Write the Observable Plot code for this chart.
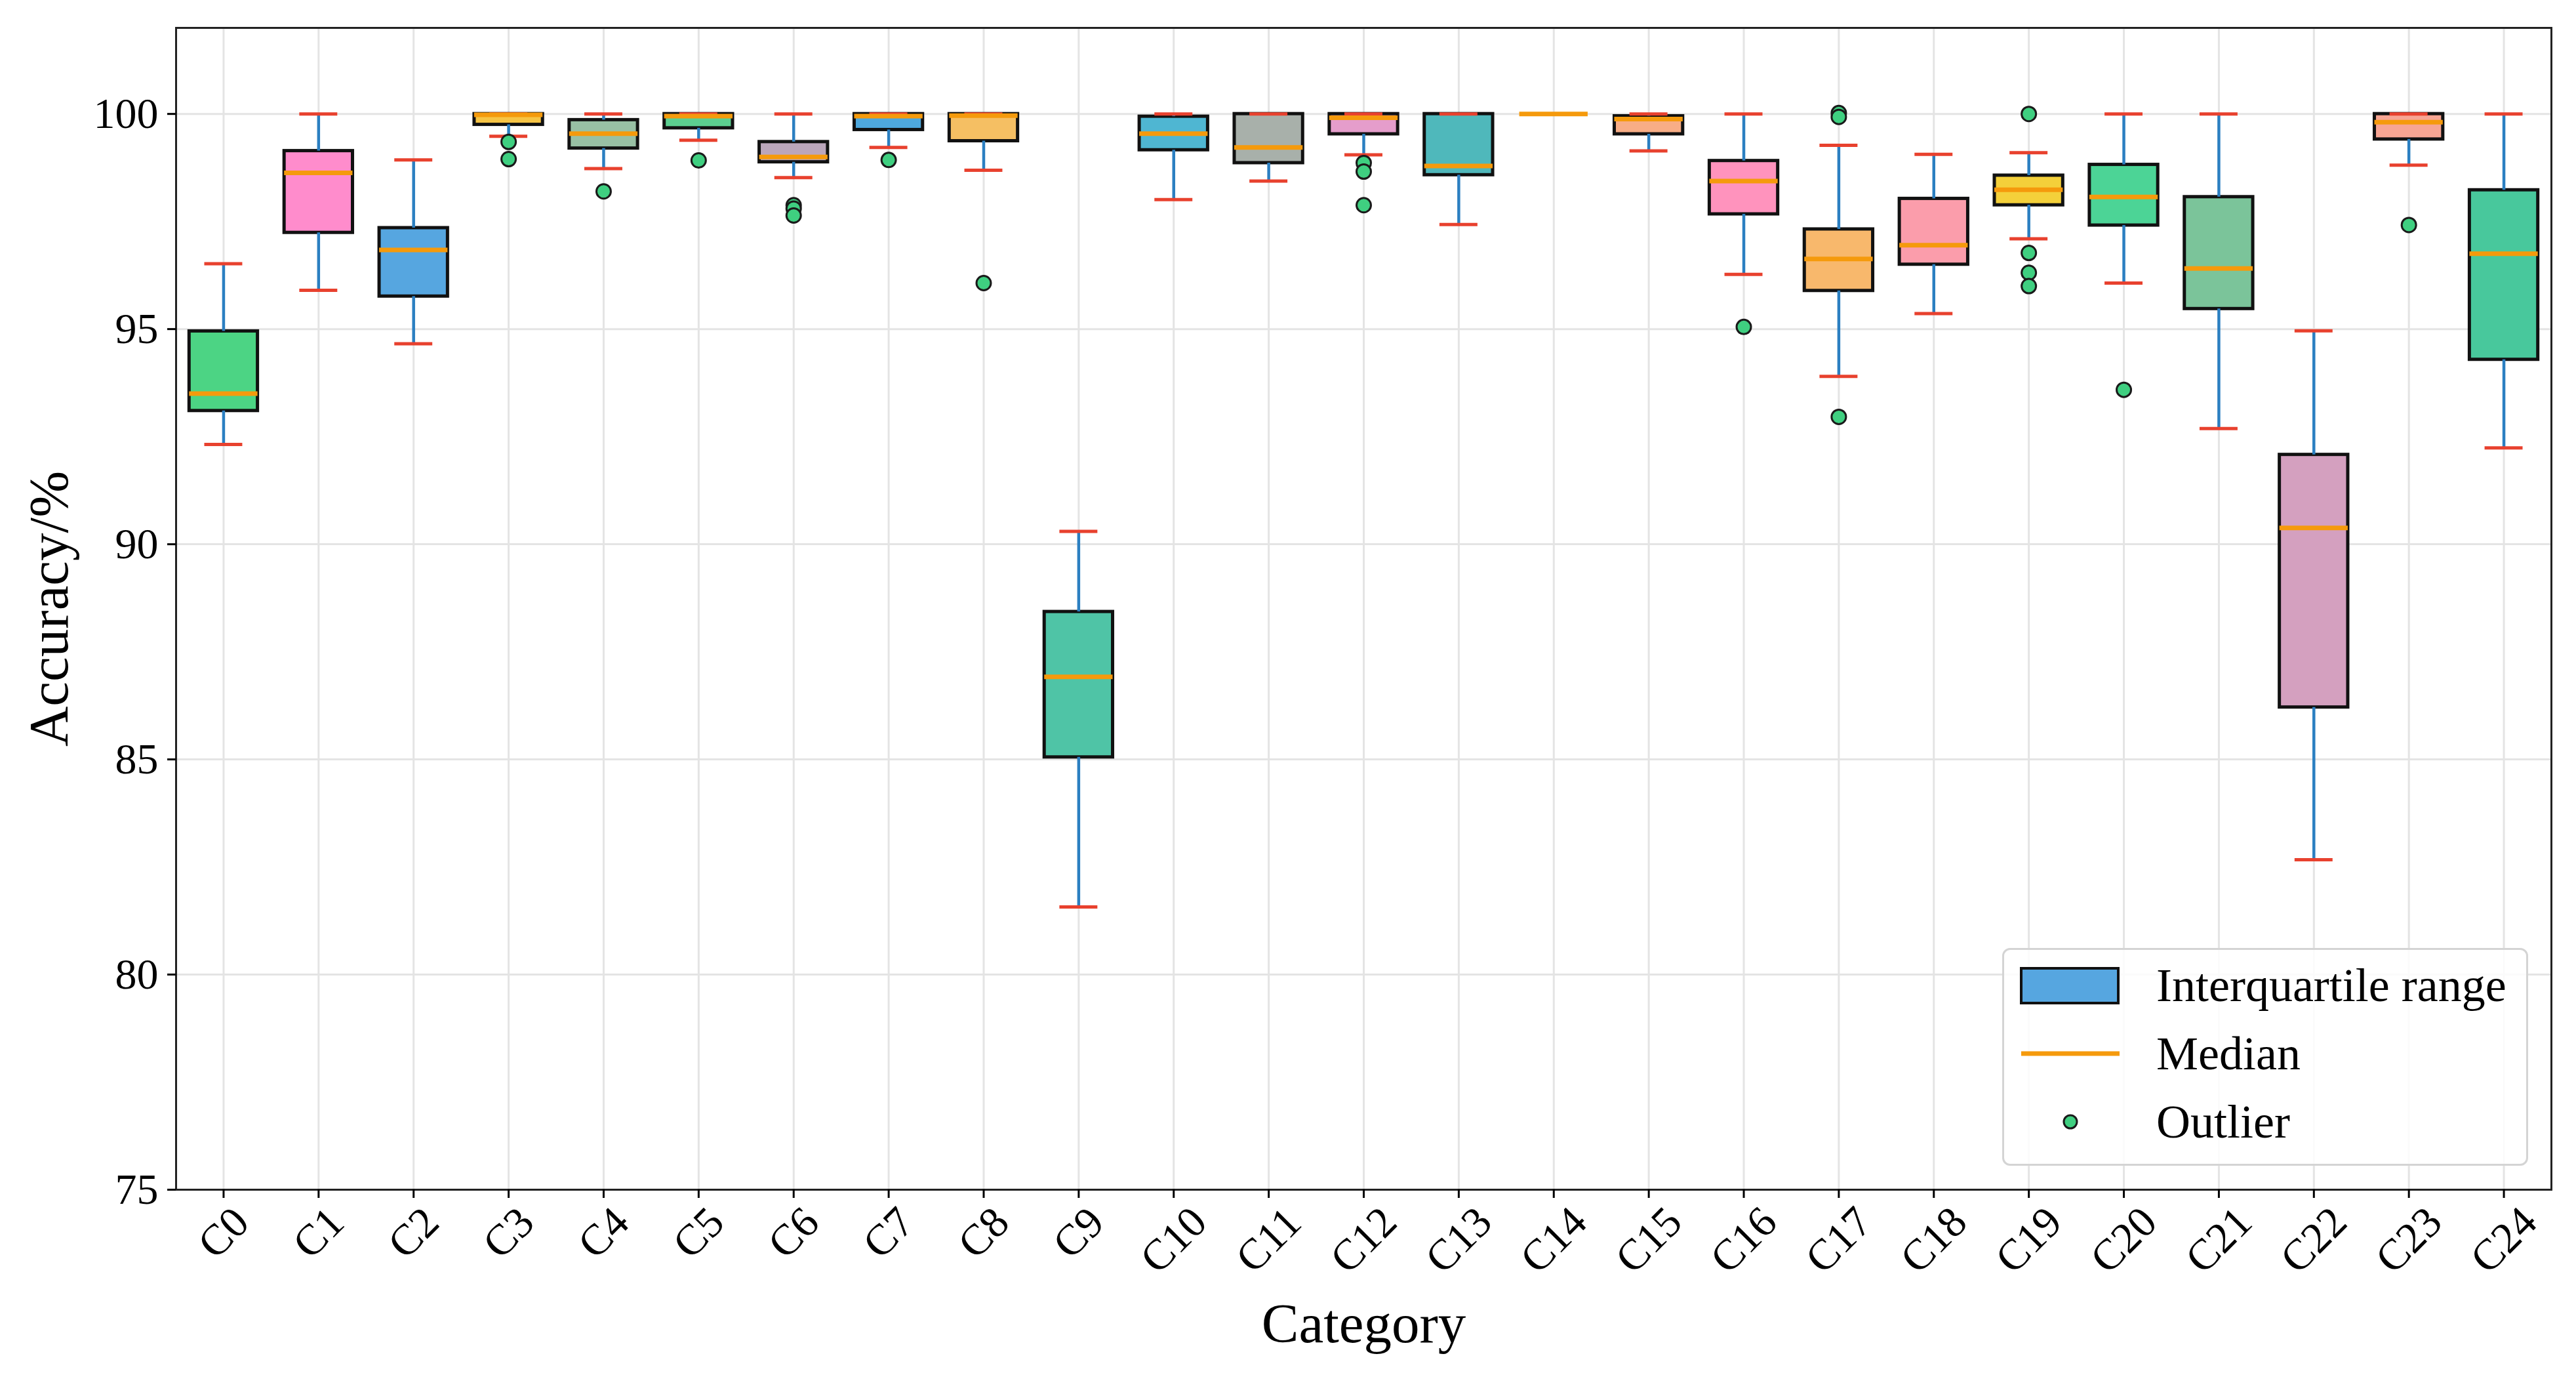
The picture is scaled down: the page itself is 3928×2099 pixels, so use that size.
<!DOCTYPE html>
<html>
<head>
<meta charset="utf-8">
<script src="https://cdn.jsdelivr.net/npm/d3@7"></script>
<script src="https://cdn.jsdelivr.net/npm/@observablehq/plot@0.6"></script>
<style>
  html, body { margin: 0; padding: 0; background: #fff; }
  #wrap { position: relative; width: 3928px; height: 2099px; font-family: "Liberation Serif", "Times New Roman", serif; }
  #legend { position: absolute; left: 3053px; top: 1445px; width: 796px; height: 326px;
    border: 3px solid #d4d4d4; border-radius: 12px; background: rgba(255,255,255,0.85); }
  .lg-row { position: absolute; left: 0; height: 80px; width: 100%; }
  .lg-text { position: absolute; left: 232px; top: 0; line-height: 80px; font-size: 72px; color: #000; white-space: nowrap; }
</style>
</head>
<body>
<div id="wrap"></div>
<script>
// ---- data ----
const categories = ["C0","C1","C2","C3","C4","C5","C6","C7","C8","C9","C10","C11","C12",
  "C13","C14","C15","C16","C17","C18","C19","C20","C21","C22","C23","C24"];
const whiskerLow  = [92.32, 95.90, 94.66, 99.48, 98.73, 99.39, 98.52, 99.22, 98.69, 81.57, 98.01, 98.44, 99.05,
  97.43, 100.0, 99.14, 96.27, 93.90, 95.36, 97.10, 96.07, 92.69, 82.67, 98.81, 92.24];
const q1          = [93.10, 97.24, 95.76, 99.75, 99.20, 99.67, 98.88, 99.63, 99.37, 85.05, 99.16, 98.86, 99.53,
  98.58, 100.0, 99.53, 97.67, 95.89, 96.50, 97.88, 97.41, 95.47, 86.21, 99.41, 94.29];
const median      = [93.50, 98.63, 96.84, 99.98, 99.54, 99.95, 99.00, 99.95, 99.96, 86.92, 99.54, 99.22, 99.91,
  98.79, 100.0, 99.88, 98.44, 96.63, 96.95, 98.24, 98.07, 96.41, 90.38, 99.81, 96.75];
const q3          = [94.95, 99.14, 97.35, 100.0, 99.86, 100.0, 99.35, 100.0, 100.0, 88.43, 99.94, 100.0, 100.0,
  100.0, 100.0, 99.95, 98.91, 97.32, 98.03, 98.57, 98.82, 98.07, 92.08, 100.0, 98.23];
const whiskerHigh = [96.52, 100.0, 98.93, 100.0, 100.0, 100.0, 100.0, 100.0, 100.0, 90.30, 100.0, 100.0, 100.0,
  100.0, 100.0, 100.0, 100.0, 99.27, 99.06, 99.10, 100.0, 100.0, 94.96, 100.0, 100.0];
const outlierCategory = [3, 3, 4, 5, 6, 6, 6, 7, 8, 12, 12, 12, 16, 17, 17, 17, 19, 19, 19, 19, 20, 23];
const outlierValue    = [99.35, 98.95, 98.20, 98.92, 97.88, 97.80, 97.64, 98.93, 96.07, 98.86, 98.66, 97.88,
  95.05, 100.02, 99.93, 92.96, 100.0, 96.77, 96.31, 96.00, 93.59, 97.42];
const yTicks = [75, 80, 85, 90, 95, 100];

// ---- styles ----
const boxColors = ["#4cd484","#ff8ccc","#56a6e0","#f6c445","#98c0a4","#5ccf90","#bba6bb","#4ea8dd","#f5bf63",
  "#4fc4a6","#4fb6d2","#a8b0aa","#e59dcb","#4fb8bb","#f6c445","#f8ad86","#ff93bd","#f8b86c","#fb9dab",
  "#f4d03a","#4cd496","#7bc49a","#d4a0bf","#f7a593","#48c89c"];
const whiskerColor = "#2b7fc1", capColor = "#e8412e", medianColor = "#f59a0c", outlierFill = "#3fcf80";
const boxHalf = 0.36, capHalf = 0.2;

const idx = categories.map((_, i) => i);
const outliers = outlierCategory.map((c, k) => ({c, v: outlierValue[k]}));
const FONT = "Liberation Serif, Times New Roman, serif";

const chart = Plot.plot({
  width: 3928,
  height: 2099,
  marginLeft: 268,
  marginRight: 38,
  marginTop: 42,
  marginBottom: 286,
  style: {fontFamily: FONT, background: "#fff", color: "#000"},
  x: {type: "linear", domain: [-0.5, 24.5]},
  y: {domain: [75, 102]},
  marks: [
    Plot.gridY(yTicks, {stroke: "#e4e4e4", strokeWidth: 3, strokeOpacity: 1}),
    Plot.gridX(idx, {stroke: "#e4e4e4", strokeWidth: 3, strokeOpacity: 1}),
    // boxes
    Plot.rect(idx, {x1: i => i - boxHalf, x2: i => i + boxHalf, y1: i => q1[i], y2: i => q3[i],
      fill: i => boxColors[i], stroke: "#111", strokeWidth: 5}),
    // whiskers
    Plot.ruleX(idx, {x: i => i, y1: i => q3[i], y2: i => whiskerHigh[i], stroke: whiskerColor, strokeWidth: 4.5}),
    Plot.ruleX(idx, {x: i => i, y1: i => whiskerLow[i], y2: i => q1[i], stroke: whiskerColor, strokeWidth: 4.5}),
    // caps
    Plot.ruleY(idx, {x1: i => i - capHalf, x2: i => i + capHalf, y: i => whiskerHigh[i], stroke: capColor, strokeWidth: 5}),
    Plot.ruleY(idx, {x1: i => i - capHalf, x2: i => i + capHalf, y: i => whiskerLow[i], stroke: capColor, strokeWidth: 5}),
    // medians
    Plot.ruleY(idx, {x1: i => i - boxHalf, x2: i => i + boxHalf, y: i => median[i], stroke: medianColor, strokeWidth: 7}),
    // outliers
    Plot.dot(outliers, {x: "c", y: "v", r: 11, fill: outlierFill, stroke: "#1a1a1a", strokeWidth: 3}),
    // frame & axes
    Plot.frame({stroke: "#222", strokeWidth: 3}),
    Plot.axisY({ticks: yTicks, tickSize: 13, tickPadding: 14, fontSize: 66, label: null, strokeWidth: 3}),
    Plot.axisX({ticks: idx, tickSize: 13, tickFormat: () => "", label: null, strokeWidth: 3}),
    Plot.text(idx.filter(i => categories[i].length === 2), {x: i => i, text: i => categories[i],
      frameAnchor: "bottom", dy: 66, rotate: -45, textAnchor: "middle", lineAnchor: "middle", fontSize: 66}),
    Plot.text(idx.filter(i => categories[i].length === 3), {x: i => i, text: i => categories[i],
      frameAnchor: "bottom", dy: 77, rotate: -45, textAnchor: "middle", lineAnchor: "middle", fontSize: 66}),
    Plot.text(["Accuracy/%"], {frameAnchor: "left", dx: -193, rotate: -90, textAnchor: "middle",
      lineAnchor: "middle", fontSize: 85}),
    Plot.text(["Category"], {frameAnchor: "bottom", dy: 205, textAnchor: "middle", lineAnchor: "middle", fontSize: 85})
  ]
});

const wrap = document.getElementById("wrap");
wrap.appendChild(chart);

// legend (overlay inside the plot area)
const legend = document.createElement("div");
legend.id = "legend";
legend.innerHTML = `
  <div class="lg-row" style="top:14px">
    <svg width="200" height="80" style="position:absolute;left:0;top:0">
      <rect x="26" y="14" width="148" height="53" fill="#56a6e0" stroke="#111" stroke-width="4"/>
    </svg>
    <div class="lg-text">Interquartile range</div>
  </div>
  <div class="lg-row" style="top:118px">
    <svg width="200" height="80" style="position:absolute;left:0;top:0">
      <line x1="26" x2="176" y1="40" y2="40" stroke="${medianColor}" stroke-width="7"/>
    </svg>
    <div class="lg-text">Median</div>
  </div>
  <div class="lg-row" style="top:222px">
    <svg width="200" height="80" style="position:absolute;left:0;top:0">
      <circle cx="101" cy="40" r="10" fill="${outlierFill}" stroke="#1a1a1a" stroke-width="3"/>
    </svg>
    <div class="lg-text">Outlier</div>
  </div>`;
wrap.appendChild(legend);
</script>
</body>
</html>
